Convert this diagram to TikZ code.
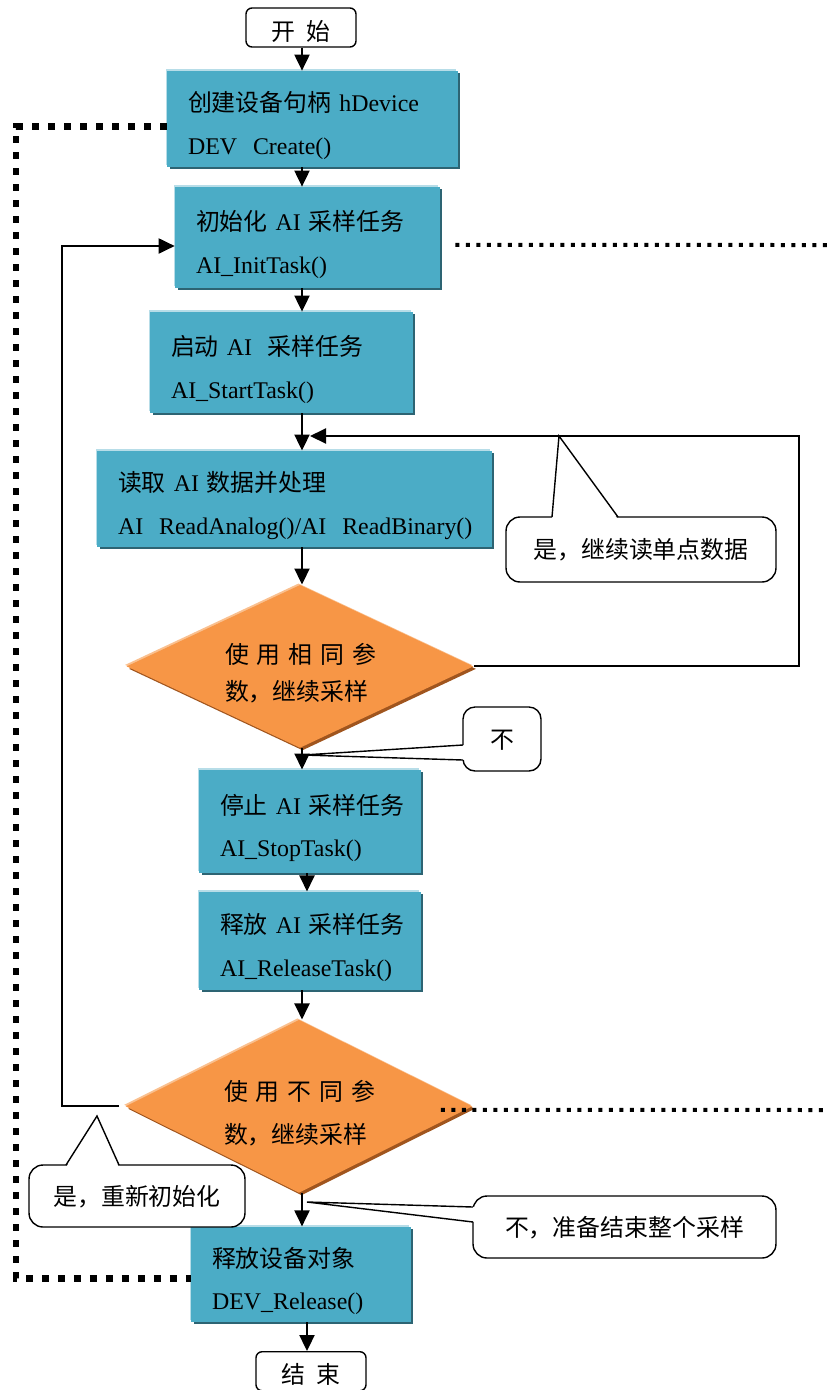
\documentclass[tikz,border=0pt]{standalone}
\usepackage{fontspec}
\setmainfont{Liberation Serif}
\newfontfamily\cjk{Noto Sans CJK SC}
\newcommand{\zh}[1]{{\cjk #1}}
\hyphenpenalty=10000
\usetikzlibrary{shapes.geometric,arrows.meta,positioning,shadows}
\definecolor{boxfill}{RGB}{75,172,198}
\definecolor{boxdark}{RGB}{45,100,115}
\definecolor{boxlite}{RGB}{183,221,232}
\definecolor{dmfill}{RGB}{247,150,70}
\definecolor{dmdark}{RGB}{160,85,30}
\definecolor{dmlite}{RGB}{250,192,143}
\tikzset{basic/.style={font=\fontsize{13.6}{24.4}\selectfont}}
\tikzset{task/.style={basic,rectangle,fill=boxfill,align=left,inner xsep=0.42cm,
    execute at begin node={\rule{0pt}{1.4em}},
    general shadow={fill=boxdark,shadow xshift=0.05cm,shadow yshift=-0.05cm},
    general shadow={fill=boxlite,shadow xshift=-0.03cm,shadow yshift=0.03cm}}}
\tikzset{decide/.style={basic,diamond,fill=dmfill,aspect=2.2,inner sep=0pt,align=left,text width=3.0cm,
    minimum width=6.94cm,execute at begin node={\rule{0pt}{1.4em}},
    general shadow={fill=dmdark,shadow xshift=0.05cm,shadow yshift=-0.05cm},
    general shadow={fill=dmlite,shadow xshift=-0.03cm,shadow yshift=0.03cm}}}
\tikzset{term/.style={basic,rectangle,draw,line width=0.8pt,rounded corners=0.12cm,inner ysep=0pt,
    text height=1.5em,text depth=0.05em,minimum width=2.2cm,minimum height=0.78cm}}
\tikzset{note/.style={basic,rectangle,draw,fill=white,line width=0.8pt,rounded corners=0.28cm,
    text height=1.13em,text depth=0.07em}}
\tikzset{arrow/.style={draw,line width=0.4mm}}
\tikzset{tail/.style={draw,line width=0.8pt}}
\tikzset{bigdots/.style={draw,line width=0.14cm,dash pattern=on 0.14cm off 0.18cm}}
\tikzset{dots/.style={draw,line width=0.08cm,dash pattern=on 0.08cm off 0.13cm}}

\begin{document}
\begin{tikzpicture}[x=0.02cm,y=-0.02cm,>={Triangle[length=0.32cm,width=0.3cm]}]
    \useasboundingbox (0,0) rectangle (827,1390);

    % main column
    \node[term] (start) at (301,27.5) {\zh{开\hspace{0.45em}始}};
    \node[task,below of=start,node distance=1.83cm,xshift=0.23cm,text width=4.98cm,minimum height=1.92cm] (create)
        {\zh{创建设备句柄}~hDevice\\DEV~~Create()};
    \node[task,below of=create,node distance=2.37cm,xshift=-0.10cm,text width=4.46cm,minimum height=2.02cm] (init)
        {\zh{初始化}~AI~\zh{采样任务}\\AI\_InitTask()};
    \node[task,below of=init,node distance=2.50cm,xshift=-0.52cm,text width=4.42cm,minimum height=2.02cm] (run)
        {\zh{启动}~AI~~\zh{采样任务}\\AI\_StartTask()};
    \node[task,below of=run,node distance=2.73cm,xshift=0.26cm,text width=7.06cm,minimum height=1.92cm] (read)
        {\zh{读取}~AI~\zh{数据并处理}\\AI~~ReadAnalog()/AI~~ReadBinary()};
    \node[decide,below of=read,node distance=3.35cm,xshift=0.11cm,minimum height=3.26cm,font=\fontsize{13.6}{21}\selectfont] (same)
        {\zh{使~用~相~同~参}\\\zh{数，继续采样}};
    \node[task,below of=same,node distance=3.10cm,xshift=0.20cm,text width=3.60cm,minimum height=2.06cm] (stop)
        {\zh{停止}~AI~\zh{采样任务}\\AI\_StopTask()};
    \node[task,below of=stop,node distance=2.39cm,text width=3.60cm,minimum height=1.96cm] (free)
        {\zh{释放}~AI~\zh{采样任务}\\AI\_ReleaseTask()};
    \node[decide,below of=free,node distance=3.31cm,xshift=-0.22cm,minimum height=3.46cm] (diff)
        {\zh{使~用~不~同~参}\\\zh{数，继续采样}};
    \node[task,below of=diff,node distance=3.36cm,xshift=0.04cm,text width=3.56cm,minimum height=1.90cm] (close)
        {\zh{释放设备对象}\\DEV\_Release()};
    \node[term,below of=close,node distance=1.94cm,xshift=0.20cm] (stopend) {\zh{结\hspace{0.45em}束}};

    % callouts
    \node[note,minimum width=5.4cm,minimum height=1.3cm] (yes1) at (641,549.5) {\zh{是，继续读单点数据}};
    \node[note,minimum width=1.56cm,minimum height=1.28cm,rounded corners=0.24cm] (no1) at (502,739) {\zh{不}};
    \node[note,minimum width=4.32cm,minimum height=1.24cm] (yes2) at (137,1196) {\zh{是，重新初始化}};
    \node[note,minimum width=6.06cm,minimum height=1.24cm] (no2) at (624.5,1227) {\zh{不，准备结束整个采样}};

    \coordinate (ax) at (302,0);
    \coordinate (ay) at (307,0);
    \coordinate (r1) at (799,436);
    \coordinate (j1) at (310,436);
    \coordinate (l1) at (62,246);
    \coordinate (k2) at (16,1278);
    \coordinate (o1) at (827,245);
    \coordinate (o2) at (827,1110);
    \coordinate (t1) at (559,436);
    \coordinate (b1a) at (552,517);
    \coordinate (b1b) at (618,517);
    \coordinate (t2) at (303,755);
    \coordinate (b2a) at (463,745);
    \coordinate (b2b) at (463,760);
    \coordinate (t3) at (97,1116);
    \coordinate (b3a) at (66,1165);
    \coordinate (b3b) at (119,1165);
    \coordinate (t4) at (307,1202);
    \coordinate (b4a) at (473,1207);
    \coordinate (b4b) at (473,1222);

    \fill[white] ([yshift=-0.05cm]b1a) -- (t1) -- ([yshift=-0.05cm]b1b) -- cycle;
    \path[tail] (b1a) -- (t1) -- (b1b);
    \fill[white] ([xshift=0.05cm]b2a) -- (t2) -- ([xshift=0.05cm]b2b) -- cycle;
    \path[tail] (b2a) -- (t2) -- (b2b);
    \fill[white] ([yshift=-0.05cm]b3a) -- (t3) -- ([yshift=-0.05cm]b3b) -- cycle;
    \path[tail] (b3a) -- (t3) -- (b3b);
    \fill[white] ([xshift=0.05cm]b4a) -- (t4) -- ([xshift=0.05cm]b4b) -- cycle;
    \path[tail] (b4a) -- (t4) -- (b4b);

        \path[arrow,->] (ax |- start.south) -- (ax |- create.north);
        \path[arrow,->] (ax |- create.south) -- (ax |- init.north);
        \path[arrow,->] (ax |- init.south) -- (ax |- run.north);
        \path[arrow,->] (ax |- run.south) -- (ax |- read.north);
        \path[arrow,->] (ax |- read.south) -- (ax |- same.north);
        \path[arrow,->] (ax |- same.south) -- (ax |- stop.north);
        \path[arrow,->] (ay |- stop.south) -- (ay |- free.north);
        \path[arrow,->] (ax |- free.south) -- (ax |- diff.north);
        \path[arrow,->] (ax |- diff.south) -- (ax |- close.north);
        \path[arrow,->] (ay |- close.south) -- (ay |- stopend.north);
        \path[arrow,->] (same.east) -| (r1) -- (j1);
        \path[arrow,->] ([xshift=-0.12cm]diff.west) -| (l1) -- (init.west |- l1);

        \path[bigdots] ([yshift=-0.16cm]create.west) -| (k2) -- (close.west |- k2);
        \path[dots] ([xshift=0.3cm,yshift=-0.15cm]init.east) -- (o1);
        \path[dots] ([xshift=-0.64cm,yshift=-0.07cm]diff.east) -- (o2);
\end{tikzpicture}
\end{document}
